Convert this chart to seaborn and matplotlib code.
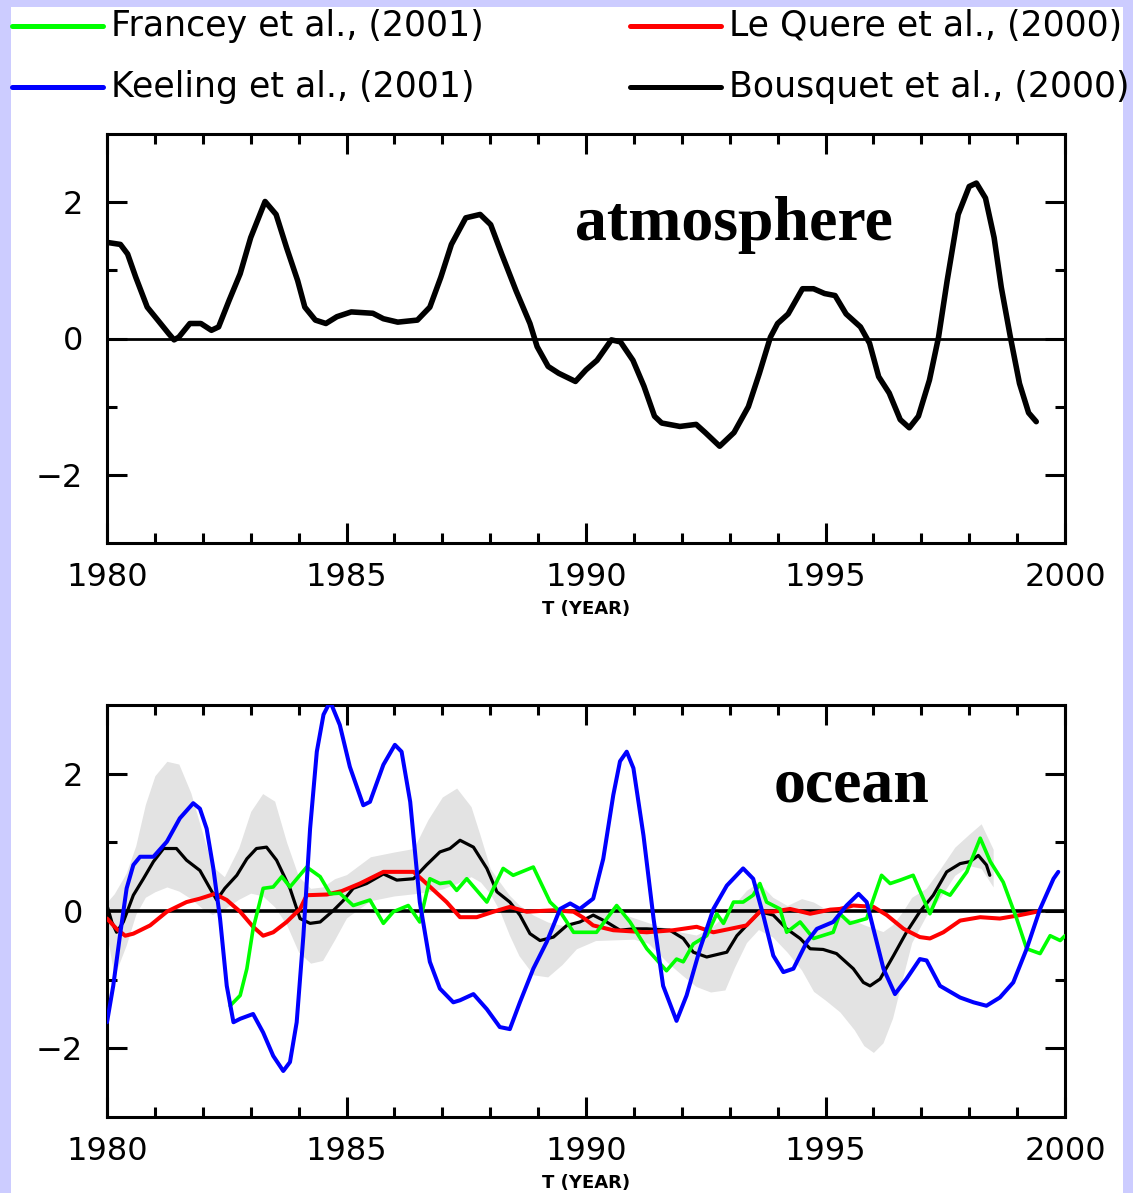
import numpy as np
import pandas as pd
import matplotlib
matplotlib.use("Agg")
import matplotlib.pyplot as plt
from matplotlib.lines import Line2D
from matplotlib.patches import Rectangle
import seaborn as sns

# ---------------- data ----------------
atm_year = [1980.0, 1980.28, 1980.43, 1980.6, 1980.84, 1981.06, 1981.29, 1981.4, 1981.5, 1981.73,
            1981.96, 1982.18, 1982.33, 1982.55, 1982.78, 1983.0, 1983.3, 1983.53, 1983.75, 1983.98,
            1984.13, 1984.35, 1984.57, 1984.8, 1985.1, 1985.55, 1985.77, 1986.07, 1986.48, 1986.74,
            1986.97, 1987.19, 1987.49, 1987.79, 1988.01, 1988.24, 1988.54, 1988.83, 1988.98, 1989.21,
            1989.43, 1989.78, 1990.0, 1990.23, 1990.53, 1990.72, 1990.98, 1991.21, 1991.43, 1991.58,
            1991.96, 1992.3, 1992.49, 1992.79, 1993.09, 1993.39, 1993.62, 1993.85, 1994.0, 1994.22,
            1994.52, 1994.75, 1994.98, 1995.2, 1995.43, 1995.73, 1995.92, 1996.11, 1996.33, 1996.56,
            1996.75, 1996.94, 1997.17, 1997.36, 1997.54, 1997.77, 1998.0, 1998.15, 1998.34, 1998.52,
            1998.67, 1998.86, 1999.05, 1999.24, 1999.4]
atm_flux = [1.41, 1.38, 1.24, 0.9, 0.46, 0.27, 0.07, -0.02, 0.02, 0.22,
            0.22, 0.12, 0.17, 0.56, 0.95, 1.48, 2.01, 1.82, 1.33, 0.85,
            0.46, 0.27, 0.22, 0.32, 0.39, 0.37, 0.29, 0.24, 0.27, 0.46,
            0.9, 1.38, 1.77, 1.82, 1.67, 1.24, 0.7, 0.22, -0.12, -0.41,
            -0.51, -0.63, -0.46, -0.32, -0.02, -0.05, -0.32, -0.70, -1.14, -1.24,
            -1.29, -1.26, -1.38, -1.58, -1.38, -1.0, -0.51, 0.02, 0.22, 0.36,
            0.73, 0.73, 0.66, 0.63, 0.36, 0.17, -0.07, -0.56, -0.8, -1.19,
            -1.31, -1.14, -0.61, 0.02, 0.85, 1.82, 2.23, 2.28, 2.06, 1.48,
            0.75, 0.02, -0.66, -1.09, -1.22]

kee_year = [1980.0, 1980.13, 1980.27, 1980.41, 1980.55, 1980.69, 1980.97, 1981.25, 1981.52, 1981.8,
            1981.94, 1982.08, 1982.22, 1982.36, 1982.5, 1982.64, 1982.78, 1983.05, 1983.26, 1983.47,
            1983.68, 1983.82, 1983.96, 1984.1, 1984.24, 1984.38, 1984.52, 1984.66, 1984.86, 1985.07,
            1985.35, 1985.49, 1985.77, 1986.01, 1986.15, 1986.33, 1986.53, 1986.74, 1986.95, 1987.23,
            1987.37, 1987.65, 1987.93, 1988.2, 1988.41, 1988.62, 1988.9, 1989.18, 1989.46, 1989.67,
            1989.87, 1990.15, 1990.36, 1990.57, 1990.71, 1990.85, 1990.99, 1991.2, 1991.41, 1991.61,
            1991.89, 1992.1, 1992.38, 1992.66, 1992.94, 1993.28, 1993.49, 1993.7, 1993.91, 1994.12,
            1994.33, 1994.61, 1994.82, 1995.16, 1995.44, 1995.69, 1995.86, 1996.0, 1996.21, 1996.45,
            1996.69, 1996.97, 1997.11, 1997.39, 1997.81, 1998.09, 1998.36, 1998.64, 1998.92, 1999.2,
            1999.48, 1999.76, 1999.86]
kee_flux = [-1.62, -1.09, -0.36, 0.33, 0.67, 0.79, 0.79, 1.01, 1.35, 1.57,
            1.49, 1.2, 0.62, -0.11, -1.09, -1.62, -1.57, -1.5, -1.77, -2.11,
            -2.33, -2.2, -1.62, -0.36, 1.2, 2.32, 2.86, 3.05, 2.71, 2.1,
            1.54, 1.59, 2.13, 2.42, 2.32, 1.59, 0.13, -0.74, -1.13, -1.33,
            -1.3, -1.21, -1.43, -1.69, -1.72, -1.33, -0.84, -0.45, 0.03, 0.11,
            0.03, 0.18, 0.76, 1.69, 2.18, 2.32, 2.08, 1.1, -0.11, -1.09,
            -1.6, -1.23, -0.55, 0.03, 0.37, 0.62, 0.47, -0.06, -0.65, -0.89,
            -0.84, -0.45, -0.26, -0.16, 0.08, 0.25, 0.13, -0.26, -0.84, -1.21,
            -0.99, -0.7, -0.72, -1.09, -1.26, -1.33, -1.38, -1.26, -1.04, -0.55,
            0.03, 0.47, 0.57]

lq_year = [1980.0, 1980.2, 1980.38, 1980.55, 1980.9, 1981.25, 1981.66, 1981.94, 1982.25, 1982.5,
           1982.78, 1983.05, 1983.26, 1983.47, 1983.75, 1984.03, 1984.17, 1984.59, 1984.9, 1985.28,
           1985.77, 1986.4, 1986.67, 1987.09, 1987.37, 1987.72, 1988.07, 1988.41, 1988.76, 1989.32,
           1989.74, 1989.95, 1990.15, 1990.57, 1991.27, 1991.82, 1992.31, 1992.66, 1993.01, 1993.35,
           1993.63, 1993.91, 1994.26, 1994.68, 1995.1, 1995.3, 1995.58, 1996.0, 1996.28, 1996.63,
           1996.97, 1997.18, 1997.46, 1997.81, 1998.23, 1998.64, 1999.06, 1999.41]
lq_flux = [-0.11, -0.26, -0.36, -0.33, -0.21, -0.01, 0.13, 0.18, 0.25, 0.16,
           -0.01, -0.23, -0.36, -0.31, -0.16, 0.03, 0.23, 0.24, 0.29, 0.4,
           0.57, 0.57, 0.4, 0.13, -0.09, -0.09, -0.01, 0.06, -0.01, 0.01,
           -0.01, -0.1, -0.21, -0.28, -0.31, -0.28, -0.23, -0.31, -0.26, -0.21,
           -0.01, -0.01, 0.03, -0.04, 0.02, 0.03, 0.08, 0.06, -0.06, -0.26,
           -0.38, -0.40, -0.31, -0.14, -0.09, -0.11, -0.06, -0.01]

fr_year = [1982.57, 1982.78, 1982.92, 1983.05, 1983.19, 1983.26, 1983.47, 1983.65, 1983.82, 1984.17,
           1984.45, 1984.66, 1984.86, 1985.14, 1985.49, 1985.77, 1985.98, 1986.29, 1986.53, 1986.74,
           1986.95, 1987.16, 1987.3, 1987.51, 1987.93, 1988.27, 1988.48, 1988.9, 1989.25, 1989.46,
           1989.74, 1990.22, 1990.64, 1990.92, 1991.27, 1991.68, 1991.89, 1992.03, 1992.24, 1992.52,
           1992.73, 1992.87, 1993.08, 1993.28, 1993.49, 1993.63, 1993.77, 1994.05, 1994.19, 1994.47,
           1994.75, 1995.16, 1995.3, 1995.51, 1995.86, 1996.17, 1996.35, 1996.56, 1996.83, 1997.18,
           1997.39, 1997.6, 1997.95, 1998.23, 1998.44, 1998.71, 1998.99, 1999.2, 1999.48, 1999.69,
           1999.9, 2000.0]
fr_flux = [-1.38, -1.23, -0.84, -0.26, 0.13, 0.33, 0.35, 0.5, 0.35, 0.64,
           0.5, 0.25, 0.26, 0.08, 0.16, -0.18, -0.01, 0.08, -0.16, 0.47,
           0.4, 0.42, 0.3, 0.47, 0.13, 0.62, 0.52, 0.64, 0.13, -0.01,
           -0.31, -0.31, 0.08, -0.16, -0.55, -0.87, -0.7, -0.74, -0.48, -0.36,
           -0.04, -0.18, 0.13, 0.13, 0.23, 0.4, 0.13, 0.03, -0.31, -0.16,
           -0.4, -0.31, -0.04, -0.18, -0.11, 0.52, 0.4, 0.45, 0.52, -0.04,
           0.3, 0.23, 0.57, 1.06, 0.72, 0.42, -0.11, -0.55, -0.62, -0.36,
           -0.43, -0.36]

bq_year = [1980.0, 1980.1, 1980.2, 1980.34, 1980.55, 1980.76, 1980.97, 1981.18, 1981.45, 1981.66,
           1981.94, 1982.15, 1982.29, 1982.46, 1982.71, 1982.92, 1983.12, 1983.33, 1983.54, 1983.82,
           1984.03, 1984.24, 1984.45, 1984.73, 1984.93, 1985.14, 1985.42, 1985.77, 1986.05, 1986.4,
           1986.67, 1986.95, 1987.16, 1987.37, 1987.65, 1987.93, 1988.14, 1988.41, 1988.62, 1988.83,
           1989.04, 1989.32, 1989.6, 1989.87, 1990.15, 1990.43, 1990.71, 1990.99, 1991.27, 1991.75,
           1992.03, 1992.24, 1992.52, 1992.94, 1993.15, 1993.42, 1993.63, 1993.91, 1994.19, 1994.47,
           1994.68, 1994.95, 1995.23, 1995.58, 1995.79, 1995.93, 1996.14, 1996.42, 1996.69, 1996.97,
           1997.25, 1997.53, 1997.81, 1998.02, 1998.19, 1998.36, 1998.43]
bq_flux = [0.08, -0.16, -0.31, -0.16, 0.23, 0.47, 0.72, 0.91, 0.91, 0.74,
           0.59, 0.33, 0.16, 0.33, 0.52, 0.76, 0.91, 0.93, 0.74, 0.33,
           -0.11, -0.18, -0.16, 0.01, 0.15, 0.33, 0.4, 0.54, 0.45, 0.47,
           0.67, 0.86, 0.91, 1.03, 0.93, 0.62, 0.28, 0.13, -0.06, -0.33,
           -0.43, -0.38, -0.21, -0.16, -0.06, -0.16, -0.28, -0.26, -0.26, -0.28,
           -0.4, -0.6, -0.67, -0.6, -0.36, -0.16, -0.01, -0.06, -0.26, -0.4,
           -0.55, -0.56, -0.62, -0.84, -1.04, -1.09, -0.99, -0.65, -0.31, -0.01,
           0.23, 0.57, 0.69, 0.72, 0.81, 0.67, 0.52]

band_year = [1980.0, 1980.15, 1980.4, 1980.6, 1980.8, 1981.0, 1981.25, 1981.5, 1981.75,
             1982.0, 1982.2, 1982.45, 1982.75, 1983.0, 1983.25, 1983.5, 1983.75,
             1984.0, 1984.25, 1984.5, 1984.75, 1985.0, 1985.5, 1986.0, 1986.4, 1986.7,
             1987.0, 1987.3, 1987.6, 1987.8, 1988.0, 1988.2, 1988.4, 1988.6, 1988.9,
             1989.2, 1989.5, 1989.8, 1990.2, 1990.6, 1991.0, 1991.3, 1991.7,
             1992.0, 1992.3, 1992.6, 1992.9, 1993.1, 1993.35, 1993.6, 1993.9,
             1994.2, 1994.5, 1994.75, 1995.0, 1995.3, 1995.6, 1995.8,
             1996.0, 1996.2, 1996.4, 1996.6, 1996.8, 1997.1, 1997.4, 1997.7,
             1998.0, 1998.25, 1998.5]
band_hi = [0.13, 0.25, 0.55, 0.95, 1.55, 1.97, 2.18, 2.14, 1.72,
           1.12, 0.65, 0.5, 0.92, 1.45, 1.71, 1.6, 1.0,
           0.5, 0.33, 0.35, 0.47, 0.53, 0.79, 0.86, 0.91, 1.33,
           1.66, 1.79, 1.52, 1.08, 0.62, 0.42, 0.23, 0.09, -0.06,
           -0.16, -0.21, -0.2, 0.0, 0.0, -0.1, -0.17, -0.26,
           -0.31, -0.35, -0.25, -0.06, 0.1, 0.3, 0.42, 0.2,
           0.08, 0.18, 0.13, 0.03, -0.06, -0.14, -0.2,
           -0.25, -0.3, -0.2, -0.02, 0.2, 0.33, 0.62, 0.93,
           1.12, 1.27, 0.9]
band_lo = [-0.35, -0.95, -0.5, -0.05, 0.2, 0.28, 0.35, 0.29, 0.18,
           0.03, -0.05, 0.03, 0.17, 0.26, 0.22, 0.06, -0.2,
           -0.6, -0.76, -0.72, -0.42, -0.1, 0.15, 0.22, 0.25, 0.28,
           0.32, 0.4, 0.5, 0.42, 0.25, 0.0, -0.35, -0.65, -0.93,
           -0.96, -0.78, -0.55, -0.43, -0.42, -0.41, -0.47, -0.75,
           -0.93, -1.1, -1.18, -1.15, -0.82, -0.46, -0.27, -0.38,
           -0.6, -0.86, -1.17, -1.3, -1.47, -1.73, -1.96,
           -2.06, -1.92, -1.56, -1.0, -0.46, -0.07, 0.2, 0.52,
           0.66, 0.62, 0.35]

major_years = [1980, 1985, 1990, 1995, 2000]
year_labels = ["1980", "1985", "1990", "1995", "2000"]
legend_labels = ["Francey et al., (2001)", "Le Quere et al., (2000)",
                 "Keeling et al., (2001)", "Bousquet et al., (2000)"]

# ---------------- figure ----------------
sns.set_theme(style="white")
plt.rcParams["font.family"] = ["DejaVu Sans"]
plt.rcParams["axes.unicode_minus"] = True

W, H = 1133, 1193
fig = plt.figure(figsize=(W / 100, H / 100), dpi=100, facecolor="#ccccff")
fig.patches.append(Rectangle((11 / W, 0), (1123 - 11) / W, 1 - 7 / H,
                             transform=fig.transFigure, facecolor="white",
                             edgecolor="none", zorder=-10))

ax1 = fig.add_axes([107 / W, 1 - 543 / H, 958 / W, 409 / H])
ax2 = fig.add_axes([107 / W, 1 - 1117 / H, 958 / W, 412 / H])


def style(ax, zero_lw):
    ax.set_facecolor("white")
    ax.set_xlim(1980, 2000)
    ax.set_ylim(-3, 3)
    ax.set_xticks(major_years)
    ax.set_xticklabels(year_labels)
    ax.set_xticks(range(1980, 2001), minor=True)
    ax.set_yticks([-2, 0, 2])
    ax.set_yticks([-1, 1], minor=True)
    ax.tick_params(which="both", direction="in", top=True, right=True,
                   bottom=True, left=True, labeltop=False, labelright=False,
                   width=2.2, color="black", labelcolor="black", labelsize=23)
    ax.tick_params(which="major", length=14.5)
    ax.tick_params(which="minor", length=7.5)
    ax.tick_params(axis="x", which="major", pad=14)
    ax.tick_params(axis="y", which="major", pad=17)
    for s in ax.spines.values():
        s.set_linewidth(2.2)
        s.set_color("black")
        s.set_visible(True)
    ax.axhline(0, color="black", lw=zero_lw, zorder=2)
    ax.set_xlabel("T (YEAR)", fontsize=13, weight="bold", labelpad=5,
                  color="black")
    ax.set_ylabel("")


# ---- atmosphere panel ----
df_atm = pd.DataFrame({"year": atm_year, "flux": atm_flux})
sns.lineplot(data=df_atm, x="year", y="flux", ax=ax1, color="black", lw=4,
             sort=False, estimator=None, zorder=3)
style(ax1, 2.0)
ax1.text(1989.77, 1.45, "atmosphere", family="Liberation Serif", weight="bold",
         fontsize=46, ha="left", va="baseline", color="black")

# ---- ocean panel ----
ax2.fill_between(band_year, band_lo, band_hi, color="#e3e3e3", lw=0, zorder=1)
series = [
    (bq_year, bq_flux, "black", 2.3),
    (lq_year, lq_flux, "#ff0000", 2.9),
    (fr_year, fr_flux, "#00ff00", 2.6),
    (kee_year, kee_flux, "#0000ff", 2.9),
]
for yr, fl, col, lw in series:
    d = pd.DataFrame({"year": yr, "flux": fl})
    sns.lineplot(data=d, x="year", y="flux", ax=ax2, color=col, lw=lw,
                 sort=False, estimator=None, zorder=3)
style(ax2, 2.6)
ax2.text(1993.91, 1.59, "ocean", family="Liberation Serif", weight="bold",
         fontsize=46, ha="left", va="baseline", color="black")

# ---- legend at the top ----
leg_items = [(12, 26, "#00ff00", legend_labels[0]),
             (630, 26, "#ff0000", legend_labels[1]),
             (12, 87, "#0000ff", legend_labels[2]),
             (630, 87, "black", legend_labels[3])]
for x0, yy, col, lab in leg_items:
    fig.add_artist(Line2D([x0 / W, (x0 + 91) / W], [1 - yy / H, 1 - yy / H],
                          color=col, lw=3.6, transform=fig.transFigure))
    fig.text((x0 + 99) / W, 1 - yy / H, lab, fontsize=25, ha="left",
             va="center", color="black")

fig.savefig("out.png", dpi=100, facecolor=fig.get_facecolor())
